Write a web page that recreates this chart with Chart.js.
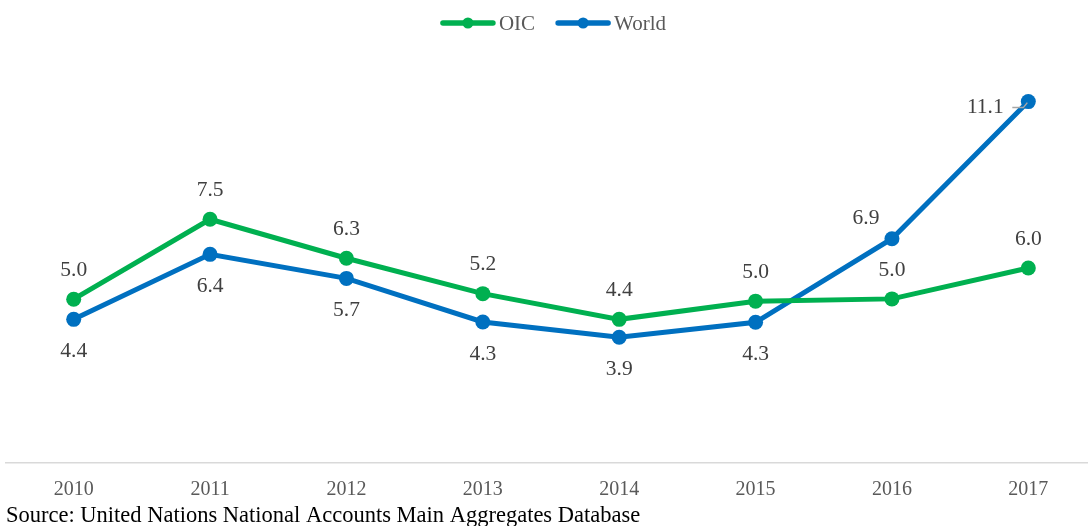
<!DOCTYPE html>
<html>
<head>
<meta charset="utf-8">
<script src="https://cdn.jsdelivr.net/npm/chart.js@4.4.1/dist/chart.umd.min.js"></script>
<style>
  html, body { margin: 0; padding: 0; background: #fff; overflow: hidden; }
  #wrap { position: relative; width: 1106px; height: 526px; margin-left: -2px; }
</style>
</head>
<body>
<div id="wrap"><canvas id="c" width="1106" height="526"></canvas></div>
<script>
const categories = ['2010', '2011', '2012', '2013', '2014', '2015', '2016', '2017'];
const oicValues = [5.04, 7.5, 6.3, 5.21, 4.42, 4.98, 5.05, 6.0];
const worldValues = [4.42, 6.42, 5.68, 4.34, 3.87, 4.33, 6.9, 11.12];
const seriesNames = ['OIC', 'World'];
const sourceText = 'Source: United Nations National Accounts Main Aggregates Database';

const GREEN = '#00B050';
const BLUE = '#0070C0';
const FONT = '"Liberation Serif", "Times New Roman", serif';

// label offsets (dx, dy) relative to each point
const oicLabelOffsets = [[0,-29],[0,-29],[0,-29],[0,-29],[0,-29],[0,-29],[0,-29],[0,-29]];
const worldLabelOffsets = [[0,32],[0,32],[0,32],[0,32],[0,32],[0,32],[-26,-20],[-43,6]];

const labelPlugin = {
  id: 'pointLabels',
  afterDatasetsDraw(chart) {
    const ctx = chart.ctx;
    ctx.save();
    ctx.font = '21.5px ' + FONT;
    ctx.fillStyle = '#404040';
    ctx.textAlign = 'center';
    ctx.textBaseline = 'middle';
    const offs = [oicLabelOffsets, worldLabelOffsets];
    chart.data.datasets.forEach((ds, di) => {
      const meta = chart.getDatasetMeta(di);
      meta.data.forEach((pt, i) => {
        const [dx, dy] = offs[di][i];
        const txt = ds.data[i].toFixed(1);
        if (di === 1 && i === ds.data.length - 1) {
          ctx.strokeStyle = '#A6A6A6';
          ctx.lineWidth = 1.5;
          ctx.beginPath();
          ctx.moveTo(pt.x - 16, pt.y + 6);
          ctx.lineTo(pt.x - 5, pt.y + 6);
          ctx.lineTo(pt.x - 1, pt.y + 1);
          ctx.stroke();
        }
        ctx.fillText(txt, pt.x + dx, pt.y + dy);
      });
    });
    ctx.restore();
  }
};

const legendPlugin = {
  id: 'lineLegend',
  afterDraw(chart) {
    const ctx = chart.ctx;
    ctx.save();
    ctx.font = '21px ' + FONT;
    const lineLen = 56, gapText = 3, gapItem = 20;
    const items = chart.data.datasets.map(ds => ({
      label: ds.label, color: ds.borderColor, w: ctx.measureText(ds.label).width
    }));
    let total = 0;
    items.forEach((it, i) => { total += lineLen + gapText + it.w + (i < items.length - 1 ? gapItem : 0); });
    let x = 555 - total / 2;
    const y = 23;
    items.forEach(it => {
      ctx.strokeStyle = it.color;
      ctx.lineWidth = 5.5;
      ctx.lineCap = 'round';
      ctx.beginPath();
      ctx.moveTo(x + 3, y);
      ctx.lineTo(x + lineLen - 3, y);
      ctx.stroke();
      ctx.fillStyle = it.color;
      ctx.beginPath();
      ctx.arc(x + lineLen / 2, y, 5.5, 0, Math.PI * 2);
      ctx.fill();
      ctx.fillStyle = '#595959';
      ctx.textAlign = 'left';
      ctx.textBaseline = 'middle';
      ctx.fillText(it.label, x + lineLen + gapText, y + 1);
      x += lineLen + gapText + it.w + gapItem;
    });
    ctx.restore();
  }
};

const sourcePlugin = {
  id: 'sourceNote',
  afterDraw(chart) {
    const ctx = chart.ctx;
    ctx.save();
    ctx.font = '22.5px ' + FONT;
    ctx.fillStyle = '#000000';
    ctx.textAlign = 'left';
    ctx.textBaseline = 'alphabetic';
    ctx.fillText(sourceText, 8, 522);
    ctx.restore();
  }
};

new Chart(document.getElementById('c'), {
  type: 'line',
  data: {
    labels: categories,
    datasets: [
      { label: seriesNames[0], data: oicValues, borderColor: GREEN, backgroundColor: GREEN,
        borderWidth: 5, pointRadius: 7.5, pointHoverRadius: 7.5, pointBorderWidth: 0, tension: 0 },
      { label: seriesNames[1], data: worldValues, borderColor: BLUE, backgroundColor: BLUE,
        borderWidth: 5, pointRadius: 7.5, pointHoverRadius: 7.5, pointBorderWidth: 0, tension: 0 }
    ]
  },
  options: {
    responsive: false,
    animation: false,
    layout: { padding: { top: 73, left: 3, right: 4, bottom: 9 } },
    plugins: {
      legend: { display: false },
      tooltip: { enabled: false },
      title: { display: false }
    },
    scales: {
      x: {
        offset: true,
        grid: { display: false, drawTicks: false },
        border: { display: true, color: '#D9D9D9', width: 1.5 },
        ticks: { color: '#595959', font: { family: FONT, size: 20 }, padding: 15, maxRotation: 0 }
      },
      y: {
        display: false,
        min: 0, max: 12
      }
    }
  },
  plugins: [labelPlugin, legendPlugin, sourcePlugin]
});
</script>
</body>
</html>
